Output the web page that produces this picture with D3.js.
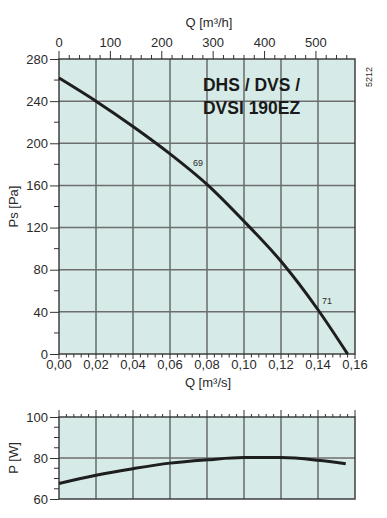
<!DOCTYPE html>
<html>
<head>
<meta charset="utf-8">
<script src="https://cdn.jsdelivr.net/npm/d3@7"></script>
<style>
  html, body { margin: 0; padding: 0; background: #fff; }
  svg { display: block; font-family: "Liberation Sans", Arial, sans-serif; }
</style>
</head>
<body>
<svg id="chart" width="387" height="518"></svg>
<script>
'use strict';

// flow axis (m3/s) and the matching m3/h ticks on top
var flowTicks = [0, 0.02, 0.04, 0.06, 0.08, 0.10, 0.12, 0.14, 0.16];
var hourTicks = [0, 100, 200, 300, 400, 500];
var pressureTicks = [0, 40, 80, 120, 160, 200, 240, 280];
var powerTicks = [60, 80, 100];

// static pressure curve
var psFlow = [0, 0.02, 0.04, 0.06, 0.08, 0.10, 0.12, 0.14, 0.156];
var psValue = [262, 240, 216, 190, 161, 126, 88, 42, 0];

// power curve
var powerFlow = [0, 0.02, 0.04, 0.06, 0.08, 0.10, 0.12, 0.14, 0.155];
var powerValue = [67.6, 71.6, 74.8, 77.5, 79.1, 80.2, 80.2, 78.9, 77.2];

// small numbers written along the curve
var curveNotes = [
  { q: 0.0724, ps: 178, text: '69' },
  { q: 0.1422, ps: 47, text: '71' }
];

var titleLines = ['DHS / DVS /', 'DVSI 190EZ'];

var svg = d3.select('#chart');
var left = 59, right = 355;
var mainTop = 59, mainBottom = 354;
var lowTop = 417, lowBottom = 499;
var fill = '#d6ebe8';
var ink = '#1e1e1e';
var textColor = '#2a2a2a';
var fontSize = 13;

var x = d3.scaleLinear().domain([0, 0.16]).range([left, right]);
var xHour = d3.scaleLinear().domain([0, 0.16 * 3600]).range([left, right]);
var y = d3.scaleLinear().domain([0, 280]).range([mainBottom, mainTop]);
var yPow = d3.scaleLinear().domain([60, 100]).range([lowBottom, lowTop]);

function panel(yScale, yGrid, yMinor, top, bottom) {
  var g = svg.append('g');
  g.append('rect')
    .attr('x', left).attr('y', top)
    .attr('width', right - left).attr('height', bottom - top)
    .attr('fill', fill);

  g.selectAll('line.v').data(flowTicks.slice(1, -1)).enter()
    .append('line')
    .attr('x1', function(d) { return x(d); })
    .attr('x2', function(d) { return x(d); })
    .attr('y1', top).attr('y2', bottom)
    .attr('stroke', '#3c3c3c').attr('stroke-width', 1.1);

  g.selectAll('line.h').data(yGrid).enter()
    .append('line')
    .attr('x1', left).attr('x2', right)
    .attr('y1', function(d) { return yScale(d); })
    .attr('y2', function(d) { return yScale(d); })
    .attr('stroke', '#6e6e6e').attr('stroke-width', 1.5);

  g.append('rect')
    .attr('x', left).attr('y', top)
    .attr('width', right - left).attr('height', bottom - top)
    .attr('fill', 'none').attr('stroke', '#333').attr('stroke-width', 1.4);

  // left minor ticks
  var ax = g.append('g').attr('transform', 'translate(' + left + ',0)');
  ax.selectAll('line.minor').data(yMinor).enter()
    .append('line')
    .attr('x1', -5).attr('x2', 0)
    .attr('y1', function(d) { return yScale(d); })
    .attr('y2', function(d) { return yScale(d); })
    .attr('stroke', '#333').attr('stroke-width', 1);
  return g;
}

function topMinorTicks(yPos) {
  var minor = d3.range(0, 0.1601, 0.004);
  svg.append('g').selectAll('line').data(minor).enter()
    .append('line')
    .attr('x1', function(d) { return x(d); })
    .attr('x2', function(d) { return x(d); })
    .attr('y1', yPos)
    .attr('y2', function(d, i) { return i % 5 === 0 ? yPos - 7 : yPos - 3; })
    .attr('stroke', '#333').attr('stroke-width', 1);
}

function styleLeftAxis(g) {
  g.select('.domain').remove();
  g.selectAll('line').attr('stroke', '#333');
  g.selectAll('text').attr('font-size', fontSize).attr('fill', textColor)
    .attr('font-family', '"Liberation Sans", Arial, sans-serif');
}

// ---------- main chart ----------
panel(y, pressureTicks.slice(1, -1), d3.range(20, 280, 40), mainTop, mainBottom);

svg.append('g')
  .attr('transform', 'translate(' + left + ',0)')
  .call(d3.axisLeft(y).tickValues(pressureTicks).tickSize(9).tickPadding(2))
  .call(styleLeftAxis);

// top axis in m3/h
var hourMinor = d3.range(0, 577, 20);
svg.append('g').selectAll('line').data(hourMinor).enter()
  .append('line')
  .attr('x1', function(d) { return xHour(d); })
  .attr('x2', function(d) { return xHour(d); })
  .attr('y1', mainTop)
  .attr('y2', function(d) { return d % 100 === 0 ? mainTop - 8 : mainTop - 4; })
  .attr('stroke', '#333').attr('stroke-width', 1);

svg.append('g').selectAll('text').data(hourTicks).enter()
  .append('text')
  .attr('x', function(d) { return xHour(d); })
  .attr('y', 47)
  .attr('text-anchor', 'middle')
  .attr('font-size', fontSize).attr('fill', textColor)
  .text(function(d) { return d; });

svg.append('text')
  .attr('x', 209).attr('y', 27)
  .attr('text-anchor', 'middle')
  .attr('font-size', fontSize).attr('fill', textColor)
  .text('Q [m³/h]');

// bottom axis in m3/s
var flowMinor = d3.range(0, 0.1601, 0.004);
svg.append('g').selectAll('line').data(flowMinor).enter()
  .append('line')
  .attr('x1', function(d) { return x(d); })
  .attr('x2', function(d) { return x(d); })
  .attr('y1', mainBottom)
  .attr('y2', function(d, i) { return i % 5 === 0 ? mainBottom + 5 : mainBottom + 3.5; })
  .attr('stroke', '#333').attr('stroke-width', 1);

svg.append('g').selectAll('text').data(flowTicks).enter()
  .append('text')
  .attr('x', function(d) { return x(d); })
  .attr('y', 369)
  .attr('text-anchor', 'middle')
  .attr('font-size', fontSize).attr('fill', textColor)
  .text(function(d) { return d.toFixed(2).replace('.', ','); });

svg.append('text')
  .attr('x', 208).attr('y', 387)
  .attr('text-anchor', 'middle')
  .attr('font-size', fontSize).attr('fill', textColor)
  .text('Q [m³/s]');

svg.append('text')
  .attr('transform', 'translate(18,' + ((mainTop + mainBottom) / 2) + ') rotate(-90)')
  .attr('text-anchor', 'middle')
  .attr('font-size', fontSize).attr('fill', textColor)
  .text('Ps [Pa]');

// title
svg.append('g').selectAll('text').data(titleLines).enter()
  .append('text')
  .attr('x', x(0.0778))
  .attr('y', function(d, i) { return y(250) + i * 23; })
  .attr('font-size', 17.5).attr('font-weight', 'bold').attr('fill', '#1a1a1a')
  .text(function(d) { return d; });

svg.append('text')
  .attr('transform', 'translate(372,77) rotate(-90)')
  .attr('text-anchor', 'middle')
  .attr('font-size', 9).attr('fill', textColor)
  .text('5212');

// pressure curve
var psLine = d3.line()
  .x(function(d) { return x(d[0]); })
  .y(function(d) { return y(d[1]); })
  .curve(d3.curveMonotoneX);

svg.append('path')
  .datum(d3.zip(psFlow, psValue))
  .attr('d', psLine)
  .attr('fill', 'none').attr('stroke', ink).attr('stroke-width', 3);

svg.append('g').selectAll('text').data(curveNotes).enter()
  .append('text')
  .attr('x', function(d) { return x(d.q); })
  .attr('y', function(d) { return y(d.ps); })
  .attr('font-size', 9).attr('fill', textColor)
  .text(function(d) { return d.text; });

// ---------- power chart ----------
panel(yPow, [80], [65, 70, 75, 85, 90, 95], lowTop, lowBottom);
topMinorTicks(lowTop);

svg.append('g')
  .attr('transform', 'translate(' + left + ',0)')
  .call(d3.axisLeft(yPow).tickValues(powerTicks).tickSize(9).tickPadding(2))
  .call(styleLeftAxis);

svg.append('text')
  .attr('transform', 'translate(18,' + ((lowTop + lowBottom) / 2) + ') rotate(-90)')
  .attr('text-anchor', 'middle')
  .attr('font-size', fontSize).attr('fill', textColor)
  .text('P [W]');

var powLine = d3.line()
  .x(function(d) { return x(d[0]); })
  .y(function(d) { return yPow(d[1]); })
  .curve(d3.curveMonotoneX);

svg.append('path')
  .datum(d3.zip(powerFlow, powerValue))
  .attr('d', powLine)
  .attr('fill', 'none').attr('stroke', ink).attr('stroke-width', 3);
</script>
</body>
</html>
